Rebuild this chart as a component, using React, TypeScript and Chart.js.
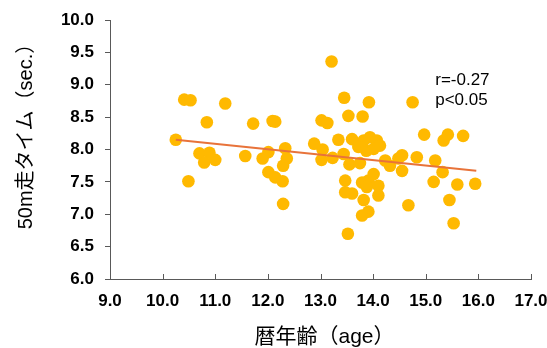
import React, { useEffect, useRef } from "react";
import { Chart, registerables } from "chart.js";

Chart.register(...registerables);

const ages = [
  10.41, 10.53, 11.19, 10.84, 11.72, 12.09, 12.14, 10.25, 10.70, 10.89,
  10.79, 11.00, 11.57, 11.90, 12.01, 10.49, 12.01, 12.14, 12.28, 12.33,
  12.36, 12.29, 12.29, 13.21, 13.45, 13.92, 14.75, 13.02, 13.13, 13.53,
  13.80, 12.88, 13.04, 13.02, 13.23, 13.34, 13.44, 13.60, 13.55, 13.75,
  13.82, 13.94, 14.07, 14.13, 13.72, 13.87, 14.01, 14.23, 14.32, 14.55,
  14.48, 14.55, 14.83, 13.47, 13.47, 13.60, 13.79, 13.91, 14.01, 13.88,
  14.10, 13.82, 14.10, 13.91, 13.79, 13.52, 14.67, 14.97, 15.42, 15.34,
  15.71, 15.18, 15.32, 15.15, 15.60, 15.94, 15.45, 15.53,
];
const times = [
  8.77, 8.76, 8.71, 8.42, 8.40, 8.44, 8.43, 8.15, 7.94, 7.95,
  7.80, 7.84, 7.90, 7.86, 7.96, 7.51, 7.65, 7.57, 7.51, 8.02,
  7.86, 7.75, 7.16, 9.36, 8.80, 8.73, 8.73, 8.45, 8.41, 8.52,
  8.51, 8.09, 8.00, 7.84, 7.87, 8.15, 7.93, 8.16, 7.77, 7.79,
  8.14, 8.19, 8.14, 8.06, 8.04, 7.98, 8.01, 7.83, 7.75, 7.91,
  7.86, 7.67, 7.88, 7.52, 7.34, 7.32, 7.49, 7.52, 7.62, 7.42,
  7.44, 7.22, 7.29, 7.04, 6.98, 6.70, 7.14, 8.23, 8.23, 8.14,
  8.21, 7.83, 7.65, 7.50, 7.46, 7.47, 7.22, 6.86,
];

const trendX = [10.25, 15.96];
const trendY = [8.15, 7.67];

const statLines = ["r=-0.27", "p<0.05"];
const statPos = { x: 15.18, y: [9.07, 8.76] };

const xTitle = "暦年齢（age）";
const yTitle = "50m走タイム（sec.）";

const FONT = "'Liberation Sans', Arial, 'Noto Sans CJK JP', sans-serif";

export default function App() {
  const ref = useRef<HTMLCanvasElement | null>(null);

  useEffect(() => {
    if (!ref.current) return;
    const extras = {
      id: "extras",
      afterDatasetsDraw(chart: any) {
        const ctx = chart.ctx;
        const xs = chart.scales.x;
        const ys = chart.scales.y;
        const area = chart.chartArea;
        ctx.save();
        ctx.strokeStyle = "#595959";
        ctx.lineWidth = 1;
        for (let v = 9; v <= 17; v += 1) {
          const px = Math.round(xs.getPixelForValue(v)) + 0.5;
          ctx.beginPath();
          ctx.moveTo(px, area.bottom);
          ctx.lineTo(px, area.bottom - 5);
          ctx.stroke();
        }
        ctx.fillStyle = "#000";
        ctx.font = "17px " + FONT;
        ctx.textAlign = "left";
        ctx.textBaseline = "middle";
        statLines.forEach((t, i) => {
          ctx.fillText(t, xs.getPixelForValue(statPos.x), ys.getPixelForValue(statPos.y[i]));
        });
        // axis titles
        ctx.font = "21px " + FONT;
        ctx.textAlign = "center";
        ctx.fillText(xTitle, (area.left + area.right) / 2 + 4, 337);
        ctx.font = "20px " + FONT;
        ctx.translate(26, (area.top + area.bottom) / 2 - 18);
        ctx.rotate(-Math.PI / 2);
        ctx.fillText(yTitle, 0, 0);
        ctx.restore();
      },
    };

    const chart = new Chart(ref.current, {
      type: "scatter",
      data: {
        datasets: [
          {
            type: "line",
            data: trendX.map((x, i) => ({ x, y: trendY[i] })),
            borderColor: "#E8733A",
            borderWidth: 2,
            pointRadius: 0,
            fill: false,
            order: 0,
          } as any,
          {
            data: ages.map((x, i) => ({ x, y: times[i] })),
            backgroundColor: "#FFB900",
            borderColor: "#FFB900",
            pointRadius: 6.3,
            borderWidth: 0,
            order: 1,
          },
        ],
      },
      options: {
        animation: false,
        responsive: false,
        maintainAspectRatio: false,
        layout: { autoPadding: false, padding: { top: 20, right: 16, left: 0, bottom: 0 } },
        plugins: { legend: { display: false }, tooltip: { enabled: false } },
        scales: {
          x: {
            type: "linear",
            min: 9,
            max: 17,
            afterFit: (s: any) => {
              s.height = 69;
              s.paddingLeft = 0;
              s.paddingRight = 0;
            },
            border: { display: true, color: "#595959", width: 1 },
            grid: { drawOnChartArea: false, drawTicks: false },
            ticks: {
              stepSize: 1,
              padding: 12,
              color: "#000",
              font: { family: FONT, size: 17, weight: "bold" },
              callback: (v: any) => Number(v).toFixed(1),
            },
          },
          y: {
            type: "linear",
            min: 6,
            max: 10,
            afterFit: (s: any) => {
              s.width = 110;
              s.paddingTop = 0;
              s.paddingBottom = 0;
            },
            border: { display: true, color: "#595959", width: 1 },
            grid: { drawOnChartArea: false, drawTicks: true, tickLength: 5, color: "#595959" },
            ticks: {
              stepSize: 0.5,
              padding: 11,
              color: "#000",
              font: { family: FONT, size: 17, weight: "bold" },
              callback: (v: any) => Number(v).toFixed(1),
            },
          },
        },
      },
      plugins: [extras],
    } as any);
    return () => chart.destroy();
  }, []);

  return (
    <div style={{ position: "fixed", left: 0, top: 0, width: 547, height: 348, background: "#fff" }}>
      <canvas ref={ref} width={547} height={348} style={{ width: 547, height: 348, display: "block" }} />
    </div>
  );
}
